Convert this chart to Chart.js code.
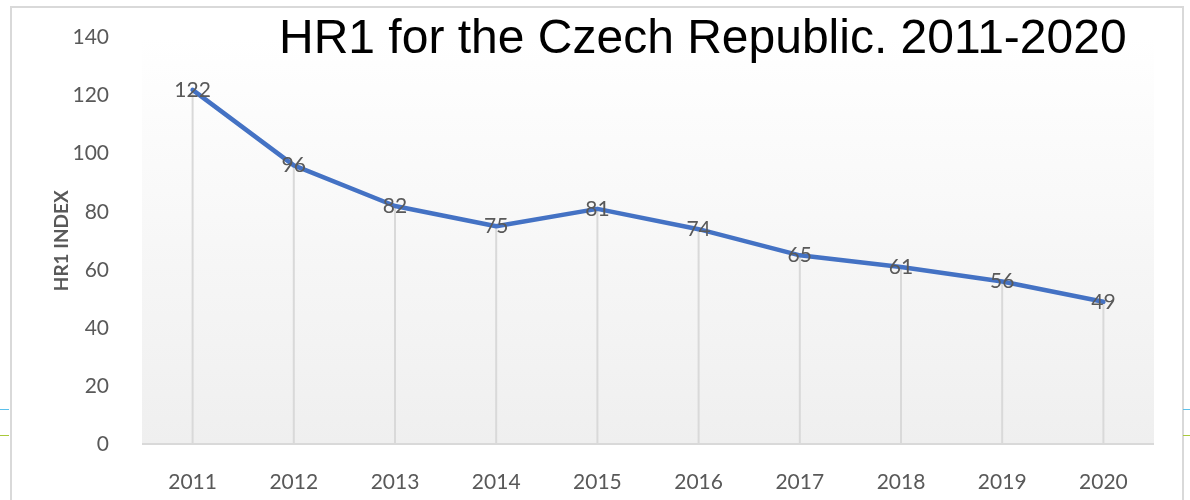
<!DOCTYPE html>
<html>
<head>
<meta charset="utf-8">
<script src="https://cdn.jsdelivr.net/npm/chart.js@4.4.1/dist/chart.umd.min.js"></script>
<style>
  body { margin: 0; background: #fff; }
  #wrap { position: relative; width: 1190px; height: 500px; overflow: hidden; }
  #frame { position: absolute; left: 10px; top: 6px; width: 1170px; height: 520px;
           border: 2px solid #d9d9d9; border-bottom: none; }
  .tick { position: absolute; height: 1px; width: 9px; }
  #title { position: absolute; left: 279px; top: 9px; font-family: "Liberation Sans", Arial, sans-serif;
           font-size: 48px; color: #000; white-space: nowrap; line-height: 56px; }
  canvas { position: absolute; left: 0; top: 0; }
</style>
</head>
<body>
<div id="wrap">
  <div id="frame"></div>
  <div class="tick" style="left:0;top:409px;background:#5bc0eb"></div>
  <div class="tick" style="left:0;top:435px;background:#a9c93b"></div>
  <div class="tick" style="left:1183px;top:409px;background:#5bc0eb"></div>
  <div class="tick" style="left:1183px;top:435px;background:#a9c93b"></div>
  <canvas id="myChart" width="1190" height="500"></canvas>
  <div id="title">HR1 for the Czech Republic. 2011-2020</div>
</div>
<script>
const tahunList = ['2011', '2012', '2013', '2014', '2015', '2016', '2017', '2018', '2019', '2020'];
const nilaiHR1 = [122, 96, 82, 75, 81, 74, 65, 61, 56, 49];
const yTicks = [0, 20, 40, 60, 80, 100, 120, 140];

const abu = '#595959';

// background gradasi di area plot
const latarPlot = {
    id: 'latarPlot',
    beforeDraw(chart) {
        const { ctx, chartArea } = chart;
        const g = ctx.createLinearGradient(0, chartArea.top, 0, chartArea.bottom);
        g.addColorStop(0, '#ffffff');
        g.addColorStop(1, '#efefef');
        ctx.save();
        ctx.fillStyle = g;
        ctx.fillRect(chartArea.left, chartArea.top, chartArea.right - chartArea.left, chartArea.bottom - chartArea.top);
        ctx.restore();
    }
};

// garis jatuh dari titik ke sumbu
const garisJatuh = {
    id: 'garisJatuh',
    beforeDatasetsDraw(chart) {
        const { ctx, chartArea } = chart;
        const meta = chart.getDatasetMeta(0);
        ctx.save();
        ctx.strokeStyle = '#d9d9d9';
        ctx.lineWidth = 2;
        meta.data.forEach(function (p) {
            ctx.beginPath();
            ctx.moveTo(p.x, p.y);
            ctx.lineTo(p.x, chartArea.bottom);
            ctx.stroke();
        });
        ctx.beginPath();
        ctx.moveTo(chartArea.left, chartArea.bottom);
        ctx.lineTo(chartArea.right, chartArea.bottom);
        ctx.stroke();
        ctx.restore();
    }
};

// label nilai di atas titik
const labelNilai = {
    id: 'labelNilai',
    afterDatasetsDraw(chart) {
        const { ctx } = chart;
        const meta = chart.getDatasetMeta(0);
        ctx.save();
        ctx.font = '21px Lato';
        ctx.fillStyle = abu;
        ctx.textAlign = 'center';
        ctx.textBaseline = 'middle';
        meta.data.forEach(function (p, i) {
            ctx.fillText(String(nilaiHR1[i]), p.x, p.y);
        });
        ctx.restore();
    }
};

const ctx = document.getElementById('myChart');
const chart = new Chart(ctx, {
    type: 'line',
    data: {
        labels: tahunList,
        datasets: [{
            data: nilaiHR1,
            borderColor: '#4472c4',
            borderWidth: 4.5,
            pointRadius: 0,
            tension: 0,
            borderJoinStyle: 'round',
            borderCapStyle: 'round'
        }]
    },
    plugins: [latarPlot, garisJatuh, labelNilai],
    options: {
        responsive: false,
        animation: false,
        layout: { padding: { left: 0, right: 36, top: 36, bottom: 0 } },
        plugins: {
            legend: { display: false },
            tooltip: { enabled: false }
        },
        scales: {
            x: {
                offset: true,
                grid: { display: false },
                border: { display: false },
                ticks: { color: abu, font: { family: 'Lato', size: 21 }, padding: 18, maxRotation: 0 },
                afterFit(scale) { scale.height = 56; }
            },
            y: {
                min: 0,
                max: 140,
                afterBuildTicks(scale) { scale.ticks = yTicks.map(v => ({ value: v })); },
                grid: { display: false },
                border: { display: false },
                ticks: { color: abu, font: { family: 'Lato', size: 21 }, padding: 25 },
                title: {
                    display: true,
                    text: 'HR1 INDEX',
                    color: abu,
                    font: { family: 'Lato', size: 19, weight: 'bold' },
                    padding: { top: 50, bottom: 0 }
                },
                afterFit(scale) { scale.width = 142; }
            }
        }
    }
});
</script>
</body>
</html>
